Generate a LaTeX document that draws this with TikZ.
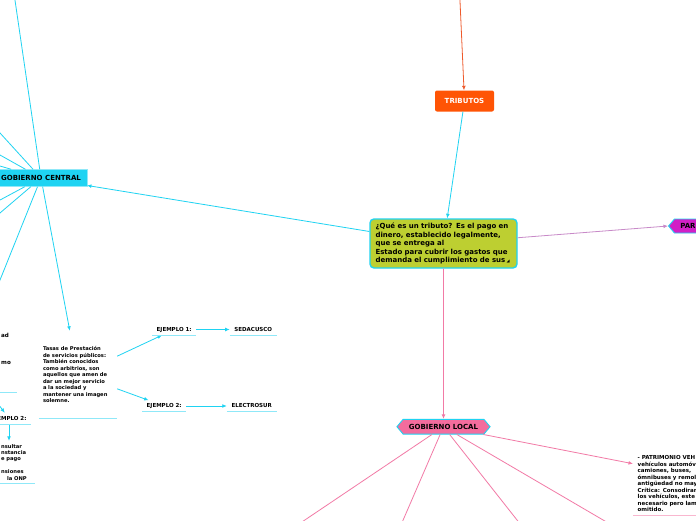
\documentclass[tikz,border=0pt]{standalone}
\usepackage{fontspec}
\setmainfont{DejaVu Sans}
\usetikzlibrary{arrows.meta,shapes.symbols}
\definecolor{mapcyan}{HTML}{1FD3F2}
\definecolor{mapcyanlt}{HTML}{8FE8F8}
\definecolor{mapgreen}{HTML}{BDCF31}
\definecolor{maporange}{HTML}{FF5405}
\definecolor{mapred}{HTML}{EE5A2C}
\definecolor{mappink}{HTML}{F36C9D}
\definecolor{mappinkln}{HTML}{F27AA6}
\definecolor{mappinklt}{HTML}{F9B7CF}
\definecolor{mapmagenta}{HTML}{D21FC6}
\definecolor{mapviolet}{HTML}{C88AC8}
\tikzset{
  centralbox/.style={
    rounded corners=4pt,
    draw=mapcyan,
    fill=mapgreen,
    line width=1.4pt,
    text width=136pt,
    inner xsep=5.5pt,
    minimum height=49pt,
    align=left,
    font=\fontsize{7}{8.5}\selectfont\bfseries
  },
  mainbox/.style={
    inner xsep=5.8pt,
    font=\fontsize{7}{8}\selectfont\bfseries
  },
  tagbox/.style={
    mainbox,
    signal,
    signal pointer angle=100,
    draw=mapcyan,
    line width=0.9pt
  },
  topic/.style={
    align=left,
    inner xsep=4pt,
    inner ysep=3pt,
    font=\fontsize{5.2}{6.5}\selectfont\bfseries
  },
  leaf/.style={
    inner xsep=4.5pt,
    inner ysep=3pt,
    text height=4pt,
    text depth=1pt,
    font=\fontsize{5.5}{6.5}\selectfont\bfseries
  },
  maplink/.style={
    -{Latex[length=4.5pt,width=3.8pt]},
    line width=0.8pt,
    draw=#1
  },
  branch/.style={line width=0.8pt, draw=#1},
  underrule/.style={line width=1pt, draw=#1}
}

\begin{document}
\begin{tikzpicture}[x=1pt,y=-1pt]
\useasboundingbox (0,0) rectangle (696,520);
\fill[white] (0,0) rectangle (696,520);
\clip (0,0) rectangle (696,520);

% main topics
\node[centralbox] (tributo) at (443.5,243.5) {¿Qué es un tributo? Es el pago en\\dinero, establecido legalmente,\\que se entrega al\\Estado para cubrir los gastos que\\demanda el cumplimiento de sus\,{\fontsize{4}{4}\selectfont ◢}};
\node[mainbox, fill=maporange, text=white, rounded corners=2pt, minimum width=59pt, minimum height=21pt] (tributos) at (464.5,101) {TRIBUTOS};
\node[mainbox, fill=mapcyan, draw=mapcyanlt, minimum width=91pt, minimum height=17pt] (gobcentral) at (41,178) {GOBIERNO CENTRAL};
\node[tagbox, signal to=west and east, fill=mappink, minimum height=14.7pt] (goblocal) at (443.5,426.7) {GOBIERNO LOCAL};
\node[tagbox, signal to=west, fill=mapmagenta, minimum height=14pt, text width=50pt, align=left, anchor=west] (paraotros) at (668,226) {PAR};

% gobierno central side
\node[topic, text width=70pt, minimum height=87pt] (tasas) at (78,374.5) {Tasas de Prestación\\de servicios públicos:\\También conocidos\\como arbitrios, son\\aquellos que amen de\\dar un mejor servicio\\a la sociedad y\\mantener una imagen\\solemne.};
\node[leaf] (ejuno) at (174.2,329.5) {EJEMPLO 1:};
\node[leaf] (sedacusco) at (253.3,329.5) {SEDACUSCO};
\node[leaf] (ejdos) at (164.2,406) {EJEMPLO 2:};
\node[leaf] (electrosur) at (251.7,406) {ELECTROSUR};
\node[topic, text width=12pt, anchor=south west, font=\fontsize{5.6}{6.5}\selectfont\bfseries] (arbitrio) at (-3,392.7) {ad\\[20.2pt]mo\\[18.5pt]\mbox{}};
\node[leaf] (ejdosizq) at (9,418.5) {EJEMPLO 2:};
\node[topic, text width=30pt, anchor=south west, font=\fontsize{5.2}{6.4}\selectfont\bfseries] (consulta) at (-3,483.3) {nsultar\\nstancia\\e pago\\[6.4pt]nsiones\\\hspace*{6pt}la ONP};

% gobierno local side
\node[topic, text width=80pt, anchor=south west, inner xsep=4.5pt, font=\fontsize{5.5}{6.5}\selectfont\bfseries] (patrimonio) at (633,515) {- PATRIMONIO VEH\\vehículos automóv\\camiones, buses,\\ómnibuses y remol\\antigüedad no may\\Crítica: Consodiran\\los vehículos, este\\necesario pero lam\\omitido.};

% branch ends outside the frame
\coordinate (raiz) at (459.5,-10);
\coordinate (gcup) at (13.5,-10);
\coordinate (gca) at (-10,122);
\coordinate (gcb) at (-10,149.4);
\coordinate (gcc) at (-10,163.1);
\coordinate (gcd) at (-10,205.4);
\coordinate (gce) at (-10,221.5);
\coordinate (gcf) at (-10,304.9);
\coordinate (ejfuera) at (-10,393);
\coordinate (gla) at (290,530);
\coordinate (glb) at (398.8,530);
\coordinate (glc) at (524.9,530);
\coordinate (gld) at (620.2,530);

% connectors
\draw[maplink=mapred] (raiz) -- (tributos);
\draw[maplink=mapcyan] (tributos) -- (tributo);
\draw[maplink=mapcyan] (tributo) -- (gobcentral);
\draw[maplink=mappinkln] (tributo) -- (goblocal);
\draw[maplink=mapviolet] (tributo) -- (paraotros.west);
\foreach \c in {gcup,gca,gcb,gcc,gcd,gce,gcf}
  \draw[branch=mapcyan] (gobcentral) -- (\c);
\draw[maplink=mapcyan] (gobcentral) -- (tasas);
\draw[maplink=mapcyan] (tasas) -- (ejuno);
\draw[maplink=mapcyan] (tasas) -- (ejdos);
\draw[maplink=mapcyan] (ejuno) -- (sedacusco);
\draw[maplink=mapcyan] (ejdos) -- (electrosur);
\draw[maplink=mapcyan] (ejfuera) -- (ejdosizq);
\draw[maplink=mapcyan] (ejdosizq) -- (ejdosizq |- consulta.north);
\foreach \c in {gla,glb,glc,gld}
  \draw[branch=mappinkln] (goblocal) -- (\c);
\draw[maplink=mappinkln] (goblocal) -- ([yshift=20pt]patrimonio.west);

% underlines
\foreach \n in {tasas,ejuno,sedacusco,ejdos,electrosur,arbitrio,ejdosizq,consulta}
  \draw[underrule=mapcyanlt] (\n.south west) -- (\n.south east);
\draw[underrule=mappinklt] (patrimonio.south west) -- (patrimonio.south east);
\end{tikzpicture}
\end{document}
